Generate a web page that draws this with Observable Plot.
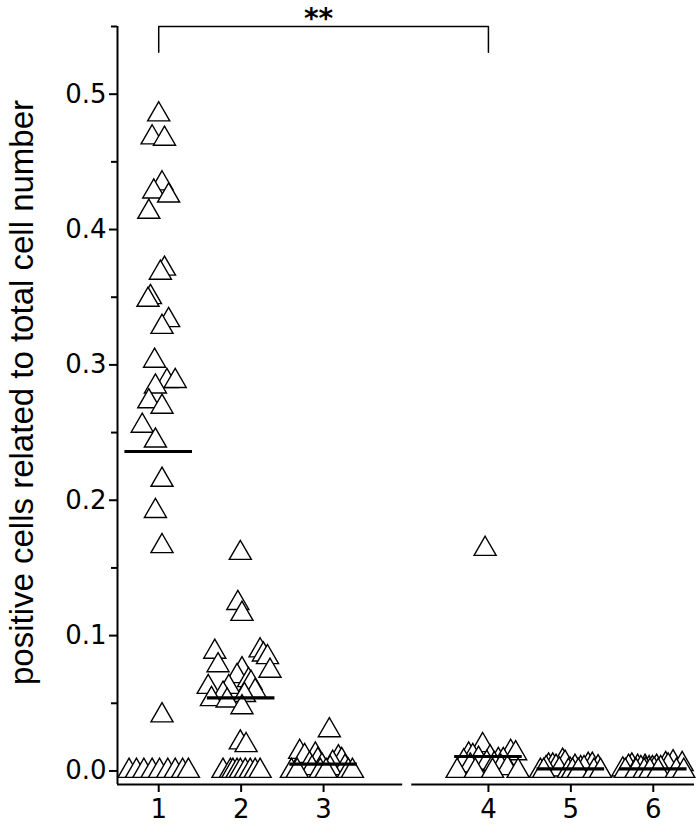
<!DOCTYPE html>
<html><head><meta charset="utf-8">
<script src="https://cdn.jsdelivr.net/npm/d3@7"></script>
<script src="https://cdn.jsdelivr.net/npm/@observablehq/plot@0.6"></script>
<style>body{margin:0;background:#fff}</style>
</head><body><div id="chart"></div>
<script>
const groups = ["1", "2", "3", "4", "5", "6"];

const g1Values = [0.485, 0.468, 0.467, 0.434, 0.428, 0.425, 0.413, 0.371, 0.368, 0.350, 0.348, 0.333, 0.328, 0.303, 0.288, 0.288, 0.284, 0.273, 0.269, 0.255, 0.244, 0.215, 0.192, 0.166, 0.041, 0, 0, 0, 0, 0, 0, 0, 0, 0];
const g1Jitter = [0.00, -0.08, 0.07, 0.04, -0.06, 0.12, -0.12, 0.07, 0.02, -0.10, -0.13, 0.12, 0.04, -0.05, 0.10, 0.20, -0.04, -0.12, 0.04, -0.20, -0.04, 0.04, -0.04, 0.04, 0.04, -0.36, -0.27, -0.18, -0.08, 0.01, 0.11, 0.20, 0.29, 0.36];

const g2Values = [0.161, 0.124, 0.116, 0.088, 0.089, 0.086, 0.084, 0.078, 0.074, 0.075, 0.070, 0.067, 0.065, 0.062, 0.062, 0.059, 0.057, 0.056, 0.053, 0.052, 0.047, 0.021, 0.019, 0, 0, 0, 0, 0, 0, 0, 0, 0];
const g2Jitter = [-0.01, -0.04, 0.01, -0.32, 0.23, 0.27, 0.32, -0.28, 0.35, 0.01, -0.05, 0.09, 0.12, -0.40, -0.15, 0.17, -0.22, 0.04, -0.36, -0.17, 0.01, -0.01, 0.06, -0.22, -0.13, -0.10, -0.05, -0.01, 0.05, 0.11, 0.17, 0.23];

const g3Values = [0.030, 0.014, 0.012, 0.011, 0.010, 0.008, 0.008, 0.006, 0.005, 0.004, 0.003, 0.002, 0.002, 0, 0, 0, 0, 0, 0];
const g3Jitter = [0.07, -0.29, -0.10, -0.23, 0.18, -0.07, 0.22, 0.11, -0.17, -0.02, 0.26, -0.14, 0.08, -0.39, -0.32, -0.04, 0.03, 0.30, 0.35];

const g4Values = [0.164, 0.019, 0.014, 0.013, 0.012, 0.011, 0.010, 0.009, 0.008, 0.008, 0.007, 0.006, 0.005, 0.004, 0.003, 0.002, 0, 0, 0, 0];
const g4Jitter = [-0.04, -0.07, 0.27, 0.33, -0.24, -0.19, 0.02, -0.12, 0.12, 0.18, -0.30, -0.02, 0.07, -0.22, 0.15, 0.23, -0.38, -0.16, 0.05, 0.36];

const g5Values = [0.0075, 0.006, 0.0045, 0.0045, 0.004, 0.004, 0.003, 0.003, 0.0026, 0.002, 0.002, 0.002, 0.001, 0.001, 0, 0, 0, 0, 0, 0, 0];
const g5Jitter = [-0.10, -0.07, 0.21, 0.26, -0.27, -0.22, -0.18, 0.05, 0.33, -0.30, 0.12, 0.16, -0.14, -0.01, -0.37, -0.33, -0.03, 0.02, 0.09, 0.28, 0.36];

const g6Values = [0.0063, 0.005, 0.005, 0.004, 0.004, 0.003, 0.003, 0.003, 0.003, 0.002, 0.002, 0.002, 0.002, 0.001, 0.001, 0.001, 0, 0, 0, 0, 0, 0, 0];
const g6Jitter = [0.24, 0.35, 0.15, -0.26, 0.18, -0.30, -0.19, -0.10, 0.04, -0.15, -0.05, -0.01, 0.09, -0.37, -0.09, 0.01, -0.34, -0.21, -0.11, -0.04, 0.06, 0.28, 0.37];

const groupMeans = [0.236, 0.054, 0.005, 0.0107, 0.0015, 0.0015];

const yMajorTicks = [0, 0.1, 0.2, 0.3, 0.4, 0.5];
const yMinorTicks = [0.05, 0.15, 0.25, 0.35, 0.45, 0.55];
const yTitle = "positive cells related to total cell number";
const sigLabel = "**";
const sigGroups = ["1", "4"];

// layout
const allValues = [g1Values, g2Values, g3Values, g4Values, g5Values, g6Values];
const allJitter = [g1Jitter, g2Jitter, g3Jitter, g4Jitter, g5Jitter, g6Jitter];
const pos = i => (i < 3 ? i + 1 : i + 2);   // gap between group 3 and 4
const positions = groups.map((g, i) => pos(i));
const xDomain = [0.5, 7.5];
const yDomain = [-0.01, 0.55];
const breakL = 3.96, breakR = 4.07;
const halfBar = 0.41;

const points = [];
allValues.forEach((vals, i) => vals.forEach((v, k) => points.push({g: groups[i], x: pos(i) + allJitter[i][k], value: v})));
const meanRows = groups.map((g, i) => ({x: pos(i), mean: groupMeans[i]}));

const s1 = pos(groups.indexOf(sigGroups[0])), s2 = pos(groups.indexOf(sigGroups[1]));
const bracketTop = yDomain[1], bracketLeg = 0.531;
const bracket = [{x: s1, y: bracketLeg}, {x: s1, y: bracketTop}, {x: s2, y: bracketTop}, {x: s2, y: bracketLeg}];

const chart = Plot.plot({
  width: 699,
  height: 834,
  marginLeft: 117,
  marginRight: 5,
  marginTop: 26,
  marginBottom: 50,
  style: {fontFamily: "DejaVu Sans", background: "white", color: "black"},
  x: {domain: xDomain, range: [117, 694]},
  y: {domain: yDomain},
  marks: [
    Plot.ruleX([xDomain[0]], {y1: yDomain[0], y2: yDomain[1], strokeWidth: 2}),
    Plot.ruleY([yDomain[0]], {x1: xDomain[0], x2: breakL, strokeWidth: 2}),
    Plot.ruleY([yDomain[0]], {x1: breakR, x2: xDomain[1], strokeWidth: 2}),
    Plot.axisY(yMajorTicks, {tickSize: 8, tickPadding: 3, tickFormat: d3.format(".1f"), fontSize: 26, strokeWidth: 2, label: null}),
    Plot.axisY(yMinorTicks, {tickSize: 6, tickFormat: () => "", strokeWidth: 2, label: null}),
    Plot.axisX(positions, {tickSize: 8, tickPadding: 7, tickFormat: d => groups[positions.indexOf(d)], fontSize: 26, strokeWidth: 2, label: null}),
    Plot.dot(points, {x: "x", y: "value", symbol: "triangle", r: 8.2, fill: "white", stroke: "black", strokeWidth: 1.4}),
    Plot.ruleY(meanRows, {y: "mean", x1: d => d.x - halfBar, x2: d => d.x + halfBar, strokeWidth: 3.2}),
    Plot.line(bracket, {x: "x", y: "y", strokeWidth: 1.5}),
    Plot.text([sigLabel], {x: (s1 + s2) / 2, y: bracketTop, dy: -7, dx: -5, fontSize: 28, fontWeight: "bold"}),
    Plot.text([yTitle], {frameAnchor: "left", textAnchor: "middle", rotate: -90, dx: -95, dy: -13, fontSize: 33, fontFamily: "Liberation Sans"})
  ]
});
document.getElementById("chart").appendChild(chart);
</script>
</body></html>
